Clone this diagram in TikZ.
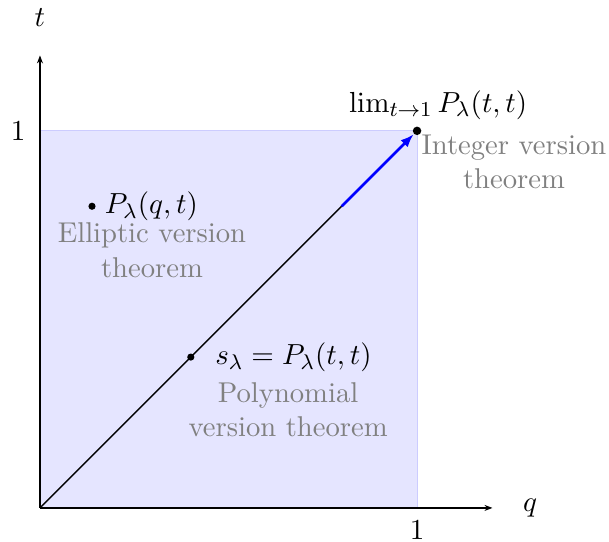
\documentclass[tikz,border=0pt]{standalone}
\usepackage{amsmath}
\usepackage{amssymb}
\usetikzlibrary{arrows.meta, positioning}
\colorlet{squarefill}{blue!10}
\colorlet{squareline}{blue!20}
\colorlet{theoremgray}{black!50}

\begin{document}
\begin{tikzpicture}[x=5cm, y=5cm, >=Latex,
    pt/.style={circle, fill=black, inner sep=0pt, minimum size=2.7pt},
    lab/.style={font=\fontsize{10.8}{13}\selectfont},
    thm/.style={lab, text=theoremgray, align=center}]
    \useasboundingbox (-0.106, -0.090) rectangle (1.509, 1.347);
    \fill[squarefill] (0, 0) rectangle (1, 1);
    \draw[squareline, line width=0.4pt] (0, 1) -- (1, 1) -- (1, 0);

    \coordinate (O) at (0, 0);
    \coordinate (qend) at (1.2, 0);
    \coordinate (tend) at (0, 1.2);
    \coordinate (mid) at (0.8, 0.8);
    \draw[-{Stealth[length=3pt]}, line width=0.5pt] (O) -- (qend);
    \draw[-{Stealth[length=3pt]}, line width=0.5pt] (O) -- (tend);
    \node[lab] (qlab) at (1.30, 0) {$q$};
    \node[lab] (tlab) at (0, 1.30) {$t$};
    \node[lab] (onex) at (1, -0.058) {$1$};
    \node[lab] (oney) at (-0.058, 1) {$1$};

    \node[pt] (poly) at (0.4, 0.4) {};
    \node[pt] (ellip) at (0.138, 0.8) {};
    \node[pt, minimum size=3.2pt] (integ) at (1, 1) {};

    \draw[line width=0.5pt] (O) -- (mid);
    \draw[-{Latex[length=5pt]}, blue, line width=1pt] (mid) -- (integ);

    \node[lab, anchor=west] (polylab) at (0.44, 0.4) {$s_\lambda = P_\lambda(t,t)$};
    \node[thm] (polythm) at (0.658, 0.26) {Polynomial\\version theorem};
    \node[lab, anchor=west] (elliplab) at (0.147, 0.8) {$P_\lambda(q,t)$};
    \node[thm] (elliptthm) at (0.297, 0.684) {Elliptic version\\theorem};
    \node[lab] (integlab) at (1.056, 1.069) {$\lim_{t\to1} P_\lambda(t,t)$};
    \node[thm] (integthm) at (1.257, 0.918) {Integer version\\theorem};
  \end{tikzpicture}
\end{document}
